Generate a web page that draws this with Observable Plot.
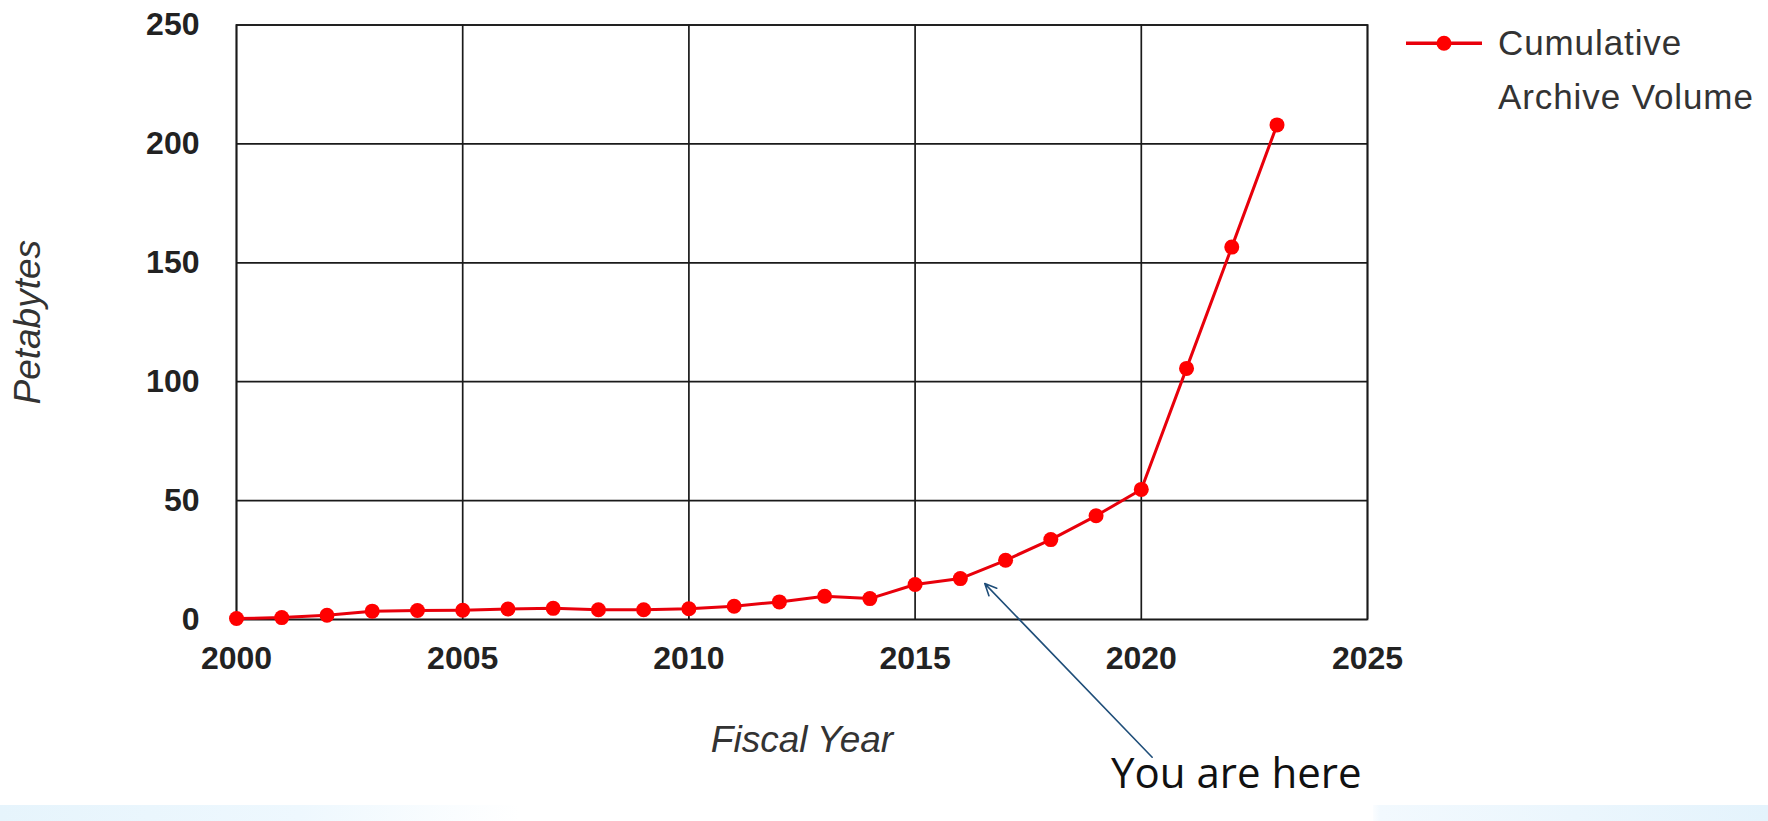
<!DOCTYPE html>
<html>
<head>
<meta charset="utf-8">
<script src="https://cdn.jsdelivr.net/npm/d3@7"></script>
<script src="https://cdn.jsdelivr.net/npm/@observablehq/plot@0.6"></script>
<style>
  html, body { margin: 0; padding: 0; background: #ffffff; }
  #wrap { position: relative; width: 1768px; height: 821px; overflow: hidden; background: #ffffff; }
  #band { position: absolute; left: 0; top: 805px; width: 1768px; height: 16px;
          background: linear-gradient(to right, #e6f4fc 0px, #eef8fe 300px, #ffffff 520px, #ffffff 1370px,
                                      #f2f9fe 1380px, #e4f3fc 1768px); }
  #chart { position: absolute; left: 0; top: 0; }
  #legend { position: absolute; left: 1406px; top: 16px; font-family: "Liberation Sans", Arial, sans-serif; }
  #legend svg { position: absolute; left: 0; top: 19px; }
  #legend .txt { position: absolute; left: 92px; top: 0; font-size: 35px; line-height: 54px; color: #333333;
                 letter-spacing: 0.9px; white-space: nowrap; }
  #here { position: absolute; left: 1092px; top: 751px; width: 281px; height: 70px; background: #ffffff;
          font-family: "Open Sans", "Noto Sans", sans-serif; font-size: 42px; line-height: 42px; color: #111111;
          padding-left: 19px; box-sizing: border-box; white-space: nowrap; }
</style>
</head>
<body>
<div id="wrap">
  <div id="band"></div>
  <div id="here"></div>
  <div id="chart"></div>
  <div id="legend"></div>
</div>
<script>
// ---- data ----
const years = [2000, 2001, 2002, 2003, 2004, 2005, 2006, 2007, 2008, 2009, 2010, 2011,
               2012, 2013, 2014, 2015, 2016, 2017, 2018, 2019, 2020, 2021, 2022, 2023];
const volumes = [0.4, 0.8, 1.8, 3.5, 3.8, 3.9, 4.4, 4.7, 4.1, 4.1, 4.5, 5.6,
                 7.4, 9.8, 8.8, 14.7, 17.2, 24.9, 33.6, 43.6, 54.7, 105.6, 156.6, 208.0];
const xTicks = [2000, 2005, 2010, 2015, 2020, 2025];
const yTicks = [0, 50, 100, 150, 200, 250];
const seriesName = ["Cumulative", "Archive Volume"];
const xTitle = "Fiscal Year";
const yTitle = "Petabytes";
const noteText = "You are here";
// annotation arrow (data coordinates): tail -> head
const arrowFrom = {year: 2020.24, value: -57.9};
const arrowTo = {year: 2016.54, value: 15.1};

const data = years.map((y, i) => ({year: y, value: volumes[i]}));

const gridStyle = {stroke: "#1a1a1a", strokeOpacity: 1, strokeWidth: 1.7};
const tickFont = {fontSize: 32, fontWeight: "bold", fill: "#222222"};

const chart = Plot.plot({
  width: 1768,
  height: 821,
  marginLeft: 236,
  marginRight: 401,
  marginTop: 24.5,
  marginBottom: 202,
  style: {fontFamily: "'Liberation Sans', Arial, sans-serif", background: "transparent", overflow: "visible"},
  x: {domain: [2000, 2025], ticks: xTicks, tickFormat: "d", label: null},
  y: {domain: [0, 250], ticks: yTicks, label: null},
  marks: [
    Plot.gridX(xTicks, gridStyle),
    Plot.gridY(yTicks, gridStyle),
    Plot.frame({stroke: "#1a1a1a", strokeWidth: 1.7}),
    Plot.axisX(xTicks, {tickSize: 0, tickPadding: 27, tickFormat: "d", label: null, ...tickFont}),
    Plot.axisY(yTicks, {tickSize: 0, tickPadding: 37, label: null, ...tickFont}),
    Plot.line(data, {x: "year", y: "value", stroke: "#e8000b", strokeWidth: 3}),
    Plot.dot(data, {x: "year", y: "value", r: 7.5, fill: "#ff0000", stroke: "none"}),
    Plot.text([xTitle], {text: d => d, frameAnchor: "bottom", dy: 121, lineAnchor: "middle", textAnchor: "middle",
                         fontSize: 37, fontStyle: "italic", fill: "#333333"}),
    Plot.text([yTitle], {text: d => d, frameAnchor: "left", dx: -208, rotate: -90, lineAnchor: "middle",
                         textAnchor: "middle", fontSize: 37, fontStyle: "italic", fill: "#333333"}),
    Plot.arrow([{x1: arrowFrom.year, y1: arrowFrom.value, x2: arrowTo.year, y2: arrowTo.value}],
               {x1: "x1", y1: "y1", x2: "x2", y2: "y2", stroke: "#1f4e79", strokeWidth: 1.6,
                headLength: 12, headAngle: 50, clip: false})
  ]
});
document.getElementById("chart").appendChild(chart);

// legend
const legend = document.getElementById("legend");
legend.innerHTML =
  '<svg width="80" height="20" viewBox="0 0 80 20">' +
  '<line x1="0" y1="8.3" x2="76" y2="8.3" stroke="#e8000b" stroke-width="3.5"/>' +
  '<circle cx="38" cy="8.3" r="7.5" fill="#ff0000"/></svg>' +
  '<div class="txt">' + seriesName.join("<br>") + '</div>';

document.getElementById("here").textContent = noteText;
</script>
</body>
</html>
